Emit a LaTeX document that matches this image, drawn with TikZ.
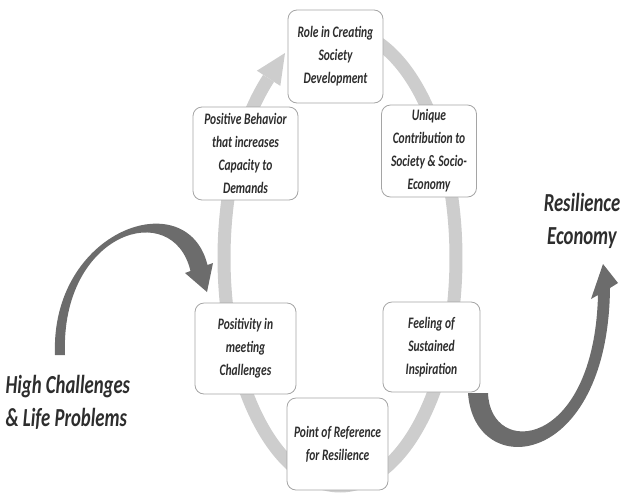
\documentclass[tikz,border=0pt]{standalone}
\usepackage{fontspec}
\setmainfont{Carlito}
\newfontfamily\cyclefont[FakeStretch=0.72]{Carlito}
\definecolor{ringgray}{RGB}{205,205,205}
\definecolor{arrowgray}{RGB}{108,108,108}
\definecolor{boxline}{RGB}{165,165,165}
\definecolor{txtgray}{RGB}{45,45,45}
\tikzset{
  stagebox/.style={draw=boxline, line width=0.8pt, fill=white, rounded corners=9pt,
    align=center, text=txtgray, inner sep=2pt,
    font=\cyclefont\bfseries\itshape\fontsize{16}{23}\selectfont},
  bigtext/.style={text=txtgray, font=\cyclefont\bfseries\itshape\fontsize{26}{33}\selectfont},
  ringline/.style={draw=ringgray, line width=13pt}
}
\begin{document}
\begin{tikzpicture}[x=1pt,y=-1pt]
\useasboundingbox (0,0) rectangle (620,493);
\draw[ringline] plot[domain=128:440, samples=150, smooth] ({340+116*cos(\x)},{258-228*sin(\x)});
\fill[ringgray] (280.3,85.9) -- (285,53) -- (256.9,70.7) -- cycle;
\fill[arrowgray] (55,355) .. controls (50,230) and (187,182) .. (207.5,265) -- (213,263) -- (207,292)
  -- (185,273) -- (190.5,271) .. controls (173,197) and (60,232) .. (65,355) -- cycle;
\fill[arrowgray] (468,393) .. controls (474,482) and (608,470) .. (610,288) -- (618,283) -- (603,264)
  -- (591,299) -- (598,295) .. controls (594,450) and (490,458) .. (488,393) -- cycle;
\node[stagebox, minimum width=95pt, minimum height=93pt] (role) at (335.5,56.5) {Role in Creating\\Society\\Development};
\node[stagebox, minimum width=105pt, minimum height=93pt] (behavior) at (245.5,153.5) {Positive Behavior\\that increases\\Capacity to\\Demands};
\node[stagebox, minimum width=95pt, minimum height=92pt] (unique) at (429,151) {Unique\\Contribution to\\Society \& Socio-\\Economy};
\node[stagebox, minimum width=101pt, minimum height=91pt] (positivity) at (245.5,348.5) {Positivity in\\meeting\\Challenges};
\node[stagebox, minimum width=97pt, minimum height=90pt] (feeling) at (431.5,347) {Feeling of\\Sustained\\Inspiration};
\node[stagebox, minimum width=101pt, minimum height=92pt] (reference) at (337.5,444) {Point of Reference\\for Resilience};
\node[bigtext, align=center] (economy) at (582,221) {Resilience\\Economy};
\node[bigtext, align=left, anchor=west] (challenges) at (2,402) {High Challenges\\\& Life Problems};
\end{tikzpicture}
\end{document}
